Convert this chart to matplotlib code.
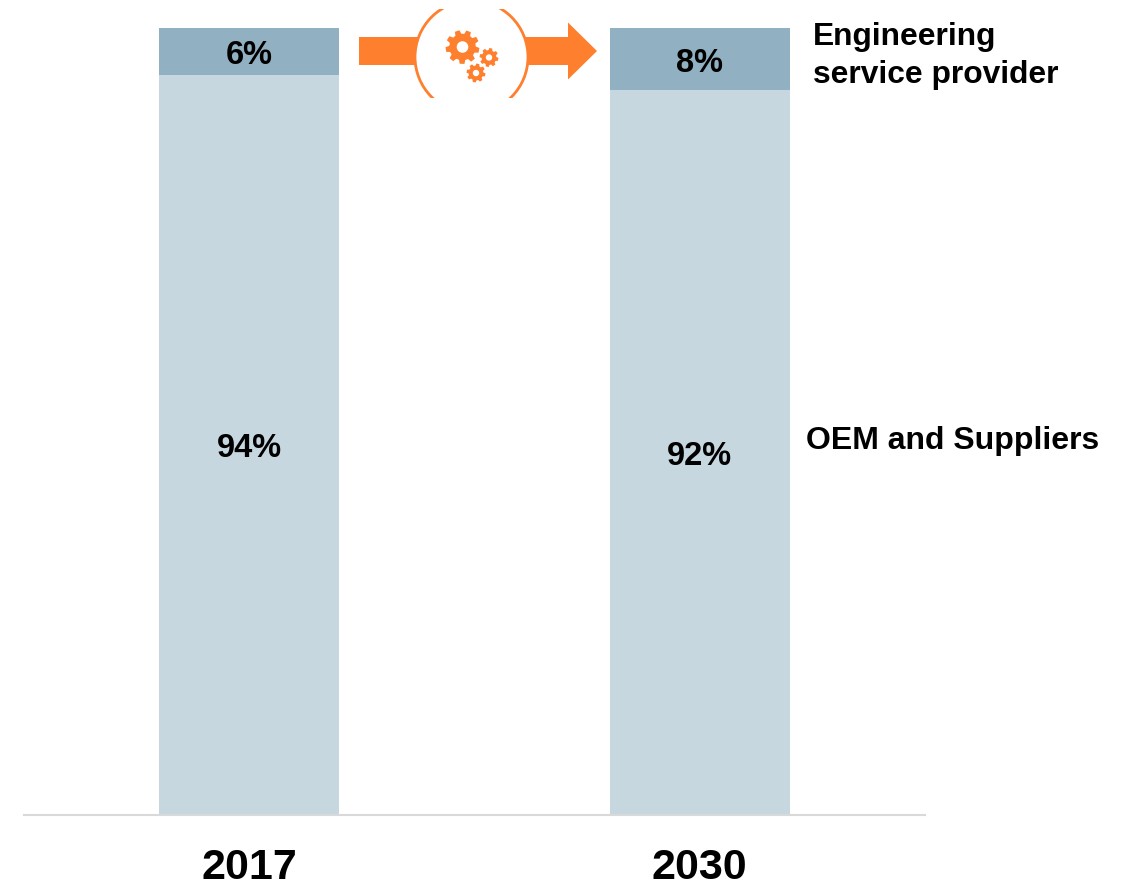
import numpy as np
import matplotlib
matplotlib.use('Agg')
import matplotlib.pyplot as plt
from matplotlib.patches import Circle, FancyArrow, Polygon, Rectangle

plt.rcParams['font.family'] = ['Liberation Sans', 'DejaVu Sans']

years = ['2017', '2030']
oem = [94, 92]
esp = [6, 8]
oem_label = 'OEM and Suppliers'
esp_label = 'Engineering\nservice provider'

ORANGE = '#FE7F2D'


# toothed wheel, px coords
def gear(ax, cx, cy, r, hole, teeth=8):
    step = 2 * np.pi / teeth
    pts = []
    for k in range(teeth):
        t = k * step + 0.2
        for da, rr in [(-0.34, 0.78), (-0.2, 1.0), (0.2, 1.0), (0.34, 0.78)]:
            a = t + da * step
            pts.append((cx + rr * r * np.cos(a), cy + rr * r * np.sin(a)))
    ax.add_patch(Polygon(pts, fc=ORANGE, ec='none', zorder=5))
    ax.add_patch(Circle((cx, cy), hole, fc='white', ec='none', zorder=6))


fig = plt.figure(figsize=(11.25, 8.82), dpi=100)
W, H = 1125, 882

# main axes: baseline at y=814.5, 100% at y=27.5
ax = fig.add_axes([24 / W, 1 - 814.5 / H, (925 - 24) / W, 787 / H])
x = np.arange(len(years))
ax.bar(x, oem, width=0.4, color='#C6D7E0')
ax.bar(x, esp, width=0.4, bottom=oem, color='#91B1C3')
ax.set_xlim(-0.5, 1.5)
ax.set_ylim(0, 100)
ax.patch.set_alpha(0)
for s in ['top', 'left', 'right']:
    ax.spines[s].set_visible(False)
ax.spines['bottom'].set_color('#D9D9D9')
ax.spines['bottom'].set_linewidth(1.5)
ax.set_yticks([])
ax.set_xticks(x)
ax.set_xticklabels(years, fontsize=31, fontweight='bold')
ax.tick_params(axis='x', length=0, pad=24)

for i in x:
    ax.annotate('%d%%' % oem[i], (i, oem[i] / 2), xytext=(0, -3), textcoords='offset points',
                ha='center', va='center', fontsize=23.5, fontweight='bold', color='black')
    ax.annotate('%d%%' % esp[i], (i, oem[i] + esp[i] / 2), xytext=(0, -3), textcoords='offset points',
                ha='center', va='center', fontsize=23.5, fontweight='bold', color='black')

# overlay in pixel coords for the arrow and labels
ov = fig.add_axes([0, 0, 1, 1])
ov.set_xlim(0, W)
ov.set_ylim(H, 0)
ov.axis('off')

ov.add_patch(FancyArrow(359, 51, 238, 0, width=28, head_width=57, head_length=29,
                        length_includes_head=True, fc=ORANGE, ec='none', zorder=2))
clip = Rectangle((400, 9), 145, 89, transform=ov.transData)
ring = Circle((471.5, 57), 56.5, fc='white', ec=ORANGE, lw=2, zorder=3)
ov.add_patch(ring)
ring.set_clip_path(clip)
gear(ov, 462.5, 47, 17, 5.8, teeth=9)
gear(ov, 489, 57.5, 9.5, 3.2, teeth=8)
gear(ov, 476, 73, 9.5, 3.2, teeth=8)

ov.text(813, 56, esp_label, ha='left', va='center', fontsize=22.9, fontweight='bold',
        linespacing=1.32)
ov.text(806, 441, oem_label, ha='left', va='center', fontsize=23, fontweight='bold')

fig.savefig('out.png', dpi=100)
